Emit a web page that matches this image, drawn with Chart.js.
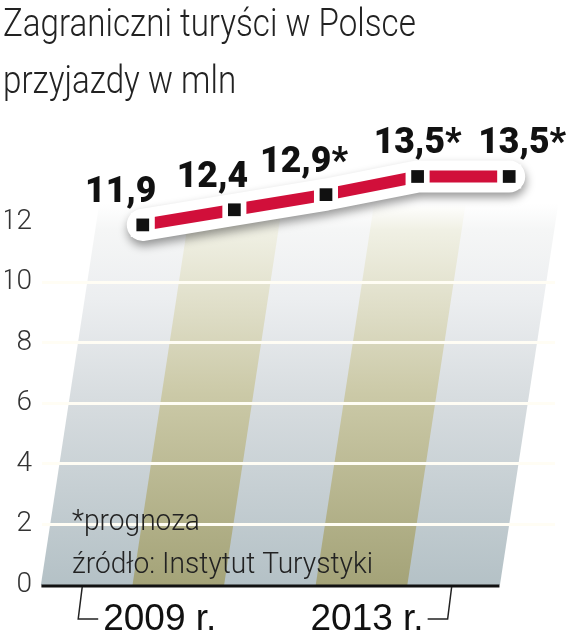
<!DOCTYPE html>
<html>
<head>
<meta charset="utf-8">
<script src="https://cdn.jsdelivr.net/npm/chart.js@4/dist/chart.umd.min.js"></script>
<style>
  body { margin: 0; background: #fff; }
  canvas { display: block; }
</style>
</head>
<body>
<canvas id="chartData" width="572" height="640"></canvas>
<script>
// dane: przyjazdy zagranicznych turystów (mln)
var years = [2009, 2010, 2011, 2012, 2013];
var values = [11.9, 12.4, 12.9, 13.5, 13.5];
var forecast = [false, false, true, true, true];
var yTicks = [0, 2, 4, 6, 8, 10, 12];
var titleLines = ["Zagraniczni turyści w Polsce", "przyjazdy w mln"];
var notes = ["*prognoza", "źródło: Instytut Turystyki"];

var THIN = "Roboto, 'Open Sans', sans-serif";
var SLANT = 0.153;

function fmt(v, i) {
  return v.toFixed(1).replace('.', ',') + (forecast[i] ? '*' : '');
}

// tekst zwężony w poziomie (brak fontu condensed)
function txt(ctx, s, x, y, font, sx, align) {
  ctx.save();
  ctx.font = font;
  ctx.textAlign = align || 'left';
  ctx.textBaseline = 'alphabetic';
  ctx.translate(x, y);
  ctx.scale(sx, 1);
  ctx.fillText(s, 0, 0);
  ctx.restore();
}

// środek kolumny na danej wysokości (pochylone tło)
function colX(chart, i, y) {
  var xs = chart.scales.x, ys = chart.scales.y;
  return xs.getPixelForValue(years[i]) - SLANT * (y - ys.getPixelForValue(12));
}

var tlo = {
  id: 'tlo',
  beforeDraw: function(chart) {
    var ctx = chart.ctx, xs = chart.scales.x, ys = chart.scales.y;
    var y0 = ys.getPixelForValue(0);
    var yTop = ys.getPixelForValue(12.6);
    var step = xs.getPixelForValue(years[1]) - xs.getPixelForValue(years[0]);
    for (var i = 0; i < years.length; i++) {
      var g = ctx.createLinearGradient(0, yTop, 0, y0);
      if (i % 2 == 0) {
        g.addColorStop(0, '#ffffff');
        g.addColorStop(0.07, '#f5f6f6');
        g.addColorStop(0.25, '#eceef0');
        g.addColorStop(0.5, '#d8dde0');
        g.addColorStop(1, '#b4c1c6');
      } else {
        g.addColorStop(0, '#ffffff');
        g.addColorStop(0.07, '#f0f0e4');
        g.addColorStop(0.25, '#e1e0cb');
        g.addColorStop(0.5, '#cbc9a7');
        g.addColorStop(1, '#a4a378');
      }
      var tx = colX(chart, i, yTop), bx = colX(chart, i, y0);
      ctx.fillStyle = g;
      ctx.beginPath();
      ctx.moveTo(tx - step / 2 - 0.5, yTop);
      ctx.lineTo(tx + step / 2 + 0.5, yTop);
      ctx.lineTo(bx + step / 2 + 0.5, y0);
      ctx.lineTo(bx - step / 2 - 0.5, y0);
      ctx.closePath();
      ctx.fill();
    }
  },
  beforeDatasetDraw: function(chart, args) {
    if (chart.data.datasets[args.index].label == 'tuba') {
      var ctx = chart.ctx;
      ctx.save();
      ctx.shadowColor = 'rgba(0,0,0,0.4)';
      ctx.shadowBlur = 10;
      ctx.shadowOffsetY = 5;
      ctx.shadowOffsetX = 1;
    }
  },
  afterDatasetDraw: function(chart, args) {
    if (chart.data.datasets[args.index].label == 'tuba') {
      chart.ctx.restore();
    }
  },
  afterDraw: function(chart) {
    var ctx = chart.ctx, xs = chart.scales.x, ys = chart.scales.y;
    var y0 = ys.getPixelForValue(0);
    var step = xs.getPixelForValue(years[1]) - xs.getPixelForValue(years[0]);
    var last = years.length - 1;
    ctx.save();

    // tytuł
    ctx.fillStyle = '#222';
    txt(ctx, titleLines[0], 3, 36, '300 39px ' + THIN, 0.85);
    txt(ctx, titleLines[1], 3, 93, '300 39px ' + THIN, 0.85);

    // przypisy
    txt(ctx, notes[0], chart.chartArea.left + 30, y0 - 55, '300 29px ' + THIN, 0.97);
    txt(ctx, notes[1], chart.chartArea.left + 30, y0 - 12, '300 29px ' + THIN, 0.97);

    // oś pozioma
    ctx.strokeStyle = '#111';
    ctx.lineWidth = 3;
    ctx.beginPath();
    ctx.moveTo(colX(chart, 0, y0) - step / 2, y0 + 1);
    ctx.lineTo(colX(chart, last, y0) + step / 2, y0 + 1);
    ctx.stroke();

    // nawiasy + lata
    ctx.lineWidth = 1.5;
    ctx.strokeStyle = '#222';
    var lx = colX(chart, 0, y0) - 5;
    var rx = colX(chart, last, y0) - 2;
    ctx.beginPath();
    ctx.moveTo(lx, y0 + 2);
    ctx.lineTo(lx - 4, y0 + 34);
    ctx.lineTo(lx + 16, y0 + 34);
    ctx.moveTo(rx, y0 + 2);
    ctx.lineTo(rx - 4, y0 + 34);
    ctx.lineTo(rx - 24, y0 + 34);
    ctx.stroke();

    ctx.fillStyle = '#111';
    txt(ctx, years[0] + ' r.', lx + 21, y0 + 45, '37px "Liberation Sans", sans-serif', 1, 'left');
    txt(ctx, years[last] + ' r.', rx - 28, y0 + 45, '37px "Liberation Sans", sans-serif', 1, 'right');

    // etykiety wartości - na odcinkach rosnących przesunięte w lewo
    var meta = chart.getDatasetMeta(0);
    for (var i = 0; i < values.length; i++) {
      var p = meta.data[i];
      var dx = (i < last && values[i + 1] > values[i]) ? -22 : (i == last ? 13 : 0);
      txt(ctx, fmt(values[i], i), p.x + dx, p.y - 23, '900 37px Roboto, sans-serif', 0.96, 'center');
    }
    ctx.restore();
  }
};

var ctx = document.getElementById("chartData").getContext("2d");

var myChart = new Chart(ctx, {
  type: 'line',
  data: {
    labels: years,
    datasets: [
      {
        label: 'znaczniki',
        data: values,
        order: 1,
        showLine: false,
        pointStyle: 'rect',
        pointRadius: 9,
        pointBackgroundColor: '#111',
        pointBorderWidth: 0
      },
      {
        label: 'przerwy',
        data: values,
        order: 2,
        showLine: false,
        pointStyle: 'rect',
        pointRadius: 17,
        pointBackgroundColor: '#fff',
        pointBorderWidth: 0
      },
      {
        label: 'linia',
        data: values,
        order: 3,
        borderColor: '#d10f3a',
        borderWidth: 12,
        pointRadius: 0,
        tension: 0
      },
      {
        label: 'tuba',
        data: values,
        order: 4,
        borderColor: '#ffffff',
        borderWidth: 32,
        borderCapStyle: 'round',
        borderJoinStyle: 'round',
        pointRadius: 0,
        tension: 0
      }
    ]
  },
  options: {
    responsive: false,
    animation: false,
    layout: { padding: { top: 119, left: 5, right: 10, bottom: 55 } },
    plugins: {
      legend: { display: false },
      tooltip: { enabled: false },
      title: { display: false }
    },
    scales: {
      x: {
        type: 'linear',
        display: false,
        min: years[0] - 1.1,
        max: years[years.length - 1] + 0.5
      },
      y: {
        min: 0,
        max: 15.4,
        afterBuildTicks: function(axis) {
          axis.ticks = yTicks.map(function(v) { return { value: v }; });
        },
        afterFit: function(axis) {
          axis.width = 37;
        },
        ticks: {
          padding: 10,
          color: '#333',
          font: { family: THIN, size: 28, weight: 300 },
          callback: function(v) { return v; }
        },
        grid: {
          drawTicks: false,
          lineWidth: 3,
          color: function(c) {
            return (c.tick && (c.tick.value == 0 || c.tick.value == 12)) ? 'rgba(0,0,0,0)' : '#fffdf4';
          }
        },
        border: { display: false }
      }
    }
  },
  plugins: [tlo]
});
</script>
</body>
</html>
